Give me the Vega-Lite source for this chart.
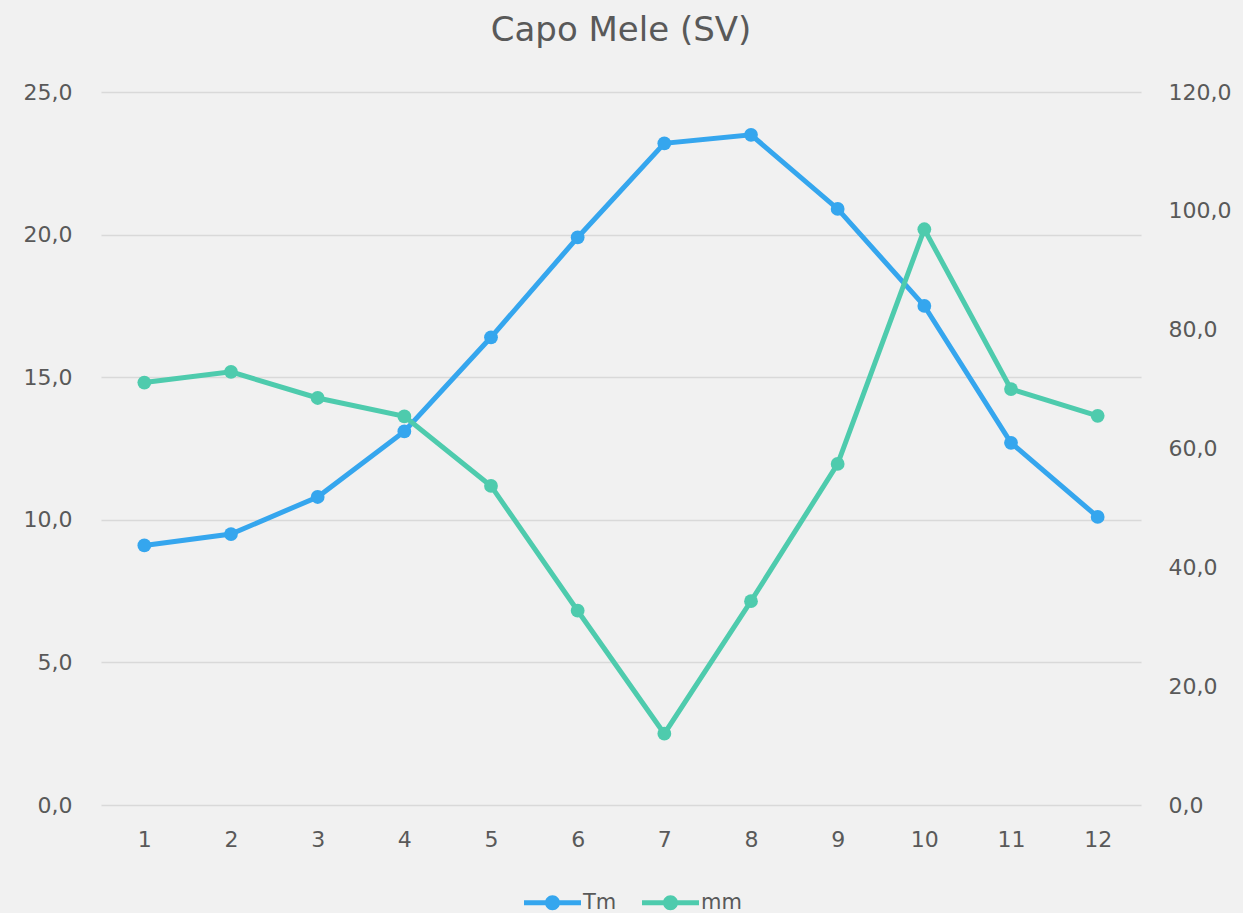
{
  "$schema": "https://vega.github.io/schema/vega-lite/v6.json",
  "width": 1040,
  "height": 713,
  "autosize": "none",
  "padding": {"left": 101, "top": 92, "right": 102, "bottom": 108},
  "background": "#f1f1f1",
  "title": {"text": "Capo Mele (SV)", "fontSize": 34, "font": "DejaVu Sans", "fontWeight": "normal", "color": "#595959", "offset": 33, "anchor": "middle"},
  "config": {
    "font": "DejaVu Sans",
    "view": {"stroke": null},
    "axis": {"labelColor": "#595959", "labelFontSize": 22, "labelFont": "DejaVu Sans", "domain": false, "ticks": false, "title": null}
  },
  "data": {"values": [
    {"month": 1, "Tm": 9.1, "mm": 71.1},
    {"month": 2, "Tm": 9.5, "mm": 72.9},
    {"month": 3, "Tm": 10.8, "mm": 68.5},
    {"month": 4, "Tm": 13.1, "mm": 65.4},
    {"month": 5, "Tm": 16.4, "mm": 53.7},
    {"month": 6, "Tm": 19.9, "mm": 32.7},
    {"month": 7, "Tm": 23.2, "mm": 12.0},
    {"month": 8, "Tm": 23.5, "mm": 34.3},
    {"month": 9, "Tm": 20.9, "mm": 57.4},
    {"month": 10, "Tm": 17.5, "mm": 96.9},
    {"month": 11, "Tm": 12.7, "mm": 70.0},
    {"month": 12, "Tm": 10.1, "mm": 65.5}
  ]},
  "encoding": {
    "x": {"field": "month", "type": "ordinal", "scale": {"paddingInner": 0, "paddingOuter": 0.5},
      "axis": {"labelAngle": 0, "labelPadding": 24, "grid": false}}
  },
  "layer": [
    {
      "encoding": {
        "y": {"field": "Tm", "type": "quantitative", "scale": {"domain": [0, 25]},
          "axis": {"orient": "left", "values": [0, 5, 10, 15, 20, 25], "grid": true, "gridColor": "#d9d9d9", "gridWidth": 1.5, "labelPadding": 29,
            "labelExpr": "replace(format(datum.value, '.1f'), '.', ',')"}},
        "color": {"datum": "Tm", "type": "nominal",
          "scale": {"domain": ["Tm", "mm"], "range": ["#35a6ee", "#4ecbad"]},
          "legend": {"orient": "none", "legendX": 441, "legendY": 800, "direction": "horizontal", "title": null, "labelFontSize": 21, "labelColor": "#595959", "labelFont": "DejaVu Sans",
            "symbolType": "M-4.07,-0.36L4.07,-0.36L4.07,0.36L-4.07,0.36Z M1.07,0A1.07,1.07 0 1,1 -1.07,0A1.07,1.07 0 1,1 1.07,0Z",
            "symbolSize": 196, "symbolStrokeWidth": 0, "labelOffset": 20, "columnPadding": 25,
            "encode": {"symbols": {"update": {"fill": {"scale": "color", "field": "value"}, "strokeWidth": {"value": 0}}}}}
        }
      },
      "layer": [
        {"mark": {"type": "line", "strokeWidth": 5}},
        {"mark": {"type": "point", "filled": true, "size": 190, "opacity": 1}}
      ]
    },
    {
      "encoding": {
        "y": {"field": "mm", "type": "quantitative", "scale": {"domain": [0, 120]},
          "axis": {"orient": "right", "values": [0, 20, 40, 60, 80, 100, 120], "grid": false, "labelPadding": 27,
            "labelExpr": "replace(format(datum.value, '.1f'), '.', ',')"}},
        "color": {"datum": "mm", "type": "nominal"}
      },
      "layer": [
        {"mark": {"type": "line", "strokeWidth": 5}},
        {"mark": {"type": "point", "filled": true, "size": 190, "opacity": 1}}
      ]
    }
  ],
  "resolve": {"scale": {"y": "independent"}}
}
